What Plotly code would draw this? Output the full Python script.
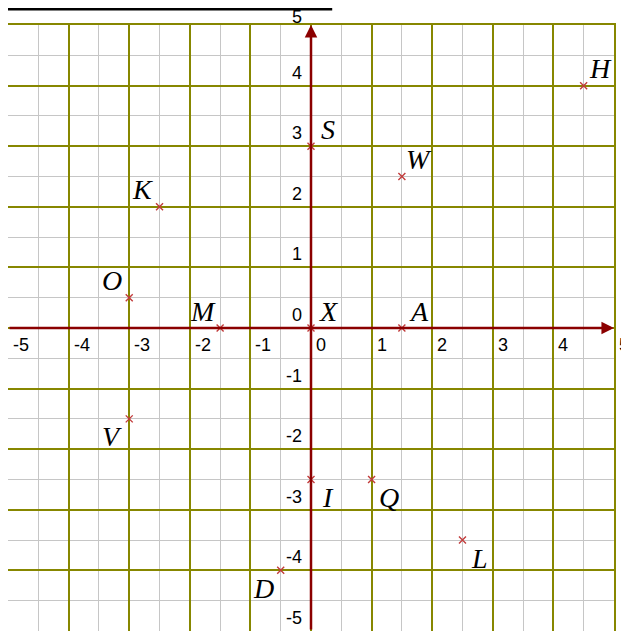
import plotly.graph_objects as go

# points
names = ["H", "S", "W", "K", "O", "M", "X", "A", "V", "I", "Q", "L", "D"]
xs = [4.5, 0, 1.5, -2.5, -3, -1.5, 0, 1.5, -3, 0, 1, 2.5, -0.5]
ys = [4, 3, 2.5, 2, 0.5, 0, 0, 0, -1.5, -2.5, -2.5, -3.5, -4]

tick_vals = [-5, -4, -3, -2, -1, 0, 1, 2, 3, 4, 5]
tick_text = ["-5", "-4", "-3", "-2", "-1", "0", "1", "2", "3", "4", "5"]

# which corner of the point each label sits on
label_side = {"H": "ur", "S": "ur", "W": "ur", "K": "ul", "O": "ul", "M": "ul",
              "X": "ur", "A": "ur", "V": "ll", "I": "lr", "Q": "lr", "L": "lr", "D": "ll"}
side_shift = {"ur": (17, 17), "ul": (-17, 17), "ll": (-17, -18), "lr": (17, -18)}

OLIVE = "#878700"
AXIS = "#8b0000"

fig = go.Figure()

fig.add_trace(go.Scatter(
    x=xs, y=ys, mode="markers",
    marker=dict(symbol="x-thin", size=7, line=dict(width=1.4, color="#c23b3b")),
    hoverinfo="skip", cliponaxis=False,
))

# axes with arrows
fig.add_annotation(x=5, y=0, ax=-5, ay=0, xref="x", yref="y", axref="x", ayref="y",
                   text="", showarrow=True, arrowhead=2, arrowsize=1, arrowwidth=2.5,
                   arrowcolor=AXIS)
fig.add_annotation(x=0, y=5, ax=0, ay=-5, xref="x", yref="y", axref="x", ayref="y",
                   text="", showarrow=True, arrowhead=2, arrowsize=1, arrowwidth=2.5,
                   arrowcolor=AXIS)

# tick labels
tick_font = dict(family="Liberation Sans, Arial, sans-serif", size=18, color="black")
for v, t in zip(tick_vals, tick_text):
    fig.add_annotation(x=v, y=0, text=t, showarrow=False, xanchor="left",
                       xshift=3, yshift=-17, font=tick_font)
    # the top label would be clipped at the page edge, nudge it down a bit
    fig.add_annotation(x=0, y=v, text=t, showarrow=False, xanchor="right",
                       xshift=-7, yshift=13 if v < 5 else 8, font=tick_font)

# point labels
lab_font = dict(family="Liberation Serif, Times New Roman, serif", size=28, color="black")
for n, x, y in zip(names, xs, ys):
    dx, dy = side_shift[label_side[n]]
    fig.add_annotation(x=x, y=y, text="<i>" + n + "</i>", showarrow=False,
                       xshift=dx, yshift=dy, font=lab_font)

# line above the grid
fig.add_shape(type="line", xref="paper", yref="paper", x0=0, x1=0.535, y0=1.026, y1=1.026,
              line=dict(color="black", width=2.5))

axis_style = dict(
    range=[-5.001, 5.001], dtick=1, tick0=0, showticklabels=False, ticks="",
    showgrid=True, gridcolor=OLIVE, gridwidth=2, zeroline=False,
    showline=True, linecolor=OLIVE, linewidth=2, mirror=True,
    minor=dict(dtick=0.5, tick0=0, showgrid=True, gridcolor="#c6c6c6", gridwidth=1),
    fixedrange=True,
)
fig.update_xaxes(**axis_style)
fig.update_yaxes(**axis_style)

fig.update_layout(
    width=621, height=623,
    margin=dict(l=0, r=15, t=17, b=0),
    plot_bgcolor="white", paper_bgcolor="white",
    showlegend=False,
)

fig.write_html("out.html")
